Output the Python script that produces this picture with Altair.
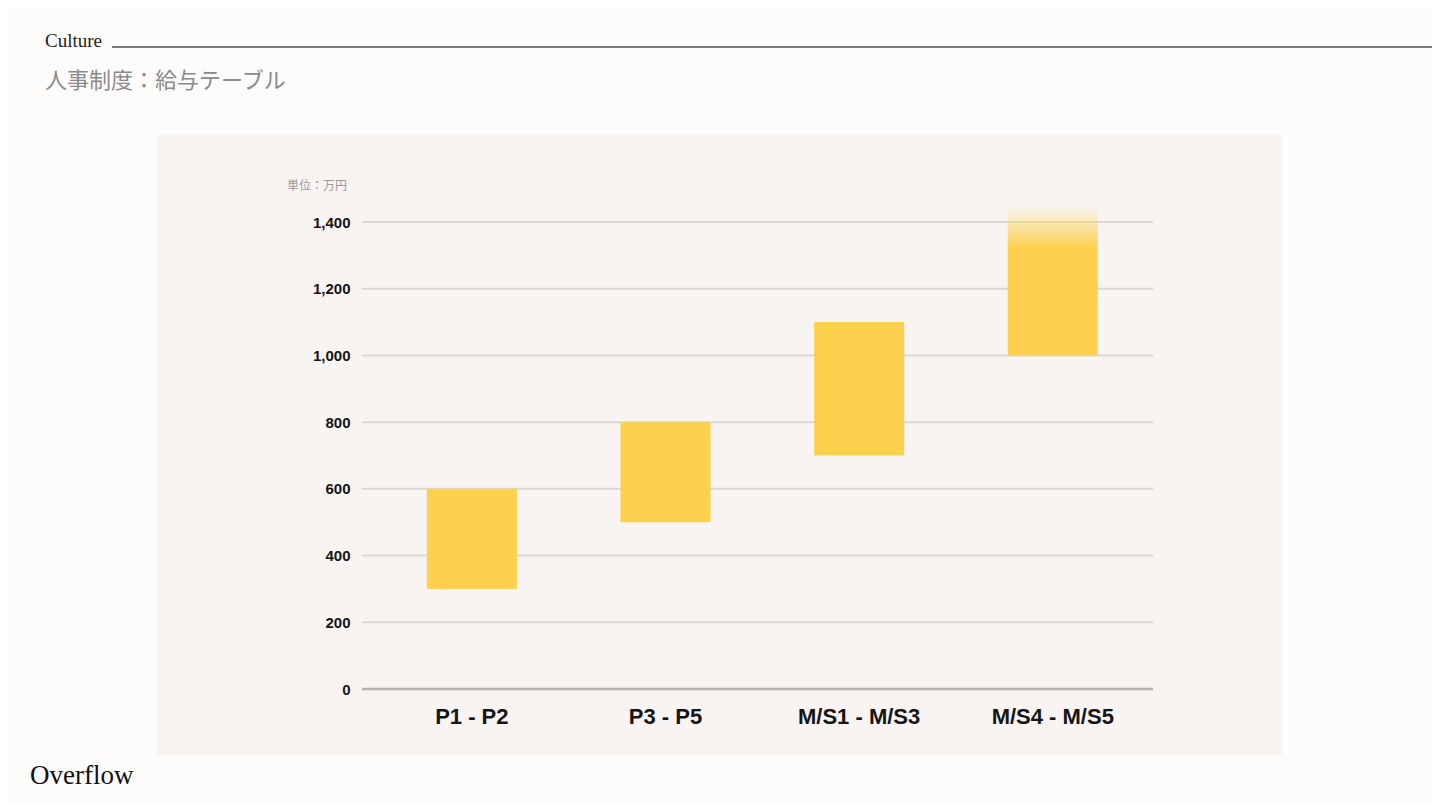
import altair as alt
import pandas as pd

# ---- data ----
categories = ["P1 - P2", "P3 - P5", "M/S1 - M/S3", "M/S4 - M/S5"]
lows = [300, 500, 700, 1000]
highs = [600, 800, 1100, 1445]
faded = [False, False, False, True]
y_ticks = [0, 200, 400, 600, 800, 1000, 1200, 1400]

bars_df = pd.DataFrame({"cat": categories, "low": lows, "high": highs, "faded": faded})
grid_df = pd.DataFrame({"low": y_ticks[1:]})
zero_df = pd.DataFrame({"low": [0]})
one = pd.DataFrame({"a": [0]})

BAR = "#FDD14D"
W, H = 791, 467

yscale = alt.Scale(domain=[0, 1400], nice=False, zero=True)
xscale = alt.Scale(domain=categories, paddingInner=0.535, paddingOuter=0.31, align=0.54)
y_axis = alt.Axis(values=y_ticks, format=",d", zindex=1)
x_axis = alt.Axis(labelAngle=0, zindex=1)

panel = alt.Chart(one).mark_rect(color="#F7F4F2").encode(
    x=alt.value(-205), x2=alt.value(920), y=alt.value(-87), y2=alt.value(533)
)

grid = alt.Chart(grid_df).mark_rule(color="#DAD7D4", strokeWidth=2).encode(
    y=alt.Y("low:Q", scale=yscale, axis=y_axis, title=None), x=alt.value(0), x2=alt.value(W)
)
zero = alt.Chart(zero_df).mark_rule(color="#B4B2AF", strokeWidth=2.5).encode(
    y=alt.Y("low:Q", scale=yscale, axis=y_axis, title=None), x=alt.value(0), x2=alt.value(W)
)

x_enc = alt.X("cat:N", scale=xscale, sort=categories, title=None, axis=x_axis)
y_enc = alt.Y("low:Q", scale=yscale, title=None, axis=y_axis)

solid_bars = alt.Chart(bars_df).transform_filter("!datum.faded").mark_bar(
    color=BAR, cornerRadius=0
).encode(x=x_enc, y=y_enc, y2="high:Q")

fade_bars = alt.Chart(bars_df).transform_filter("datum.faded").mark_bar(
    color=alt.Gradient(
        gradient="linear", x1=0, x2=0, y1=1, y2=0,
        stops=[
            alt.GradientStop(offset=0, color=BAR),
            alt.GradientStop(offset=0.72, color=BAR),
            alt.GradientStop(offset=1, color="rgba(253,209,77,0)"),
        ],
    )
).encode(x=x_enc, y=y_enc, y2="high:Q")

def label(txt, x, y, size, color, font, weight="normal", baseline="alphabetic"):
    return alt.Chart(one).mark_text(
        text=txt, fontSize=size, color=color, font=font, fontWeight=weight,
        align="left", baseline=baseline
    ).encode(x=alt.value(x), y=alt.value(y))

culture = label("Culture", -317, -175, 19, "#222222", "Liberation Serif")
header_rule = alt.Chart(one).mark_rule(color="#7A7A7A", strokeWidth=2).encode(
    x=alt.value(-250), x2=alt.value(1080), y=alt.value(-175)
)
subtitle = label("人事制度：給与テーブル", -317, -141, 22, "#8A8A8A", "Noto Sans CJK JP", baseline="middle")
unit = label("単位：万円", -75, -36, 12, "#9A9A9A", "Noto Sans CJK JP", baseline="middle")
brand = label("Overflow", -332, 554, 27, "#111111", "Liberation Serif", baseline="middle")

chart = alt.layer(
    panel, grid, zero, solid_bars, fade_bars, culture, header_rule, subtitle, unit, brand
).properties(
    width=W, height=H,
    autosize=alt.AutoSizeParams(type="none"),
    padding={"left": 354, "top": 214, "right": 279, "bottom": 113},
    background="#FDFCFB",
).configure_view(stroke=None).configure_axis(
    domain=False, ticks=False, grid=False, labelFont="Liberation Sans",
    labelFontWeight="bold", labelColor="#151515"
).configure_axisX(
    labelFontSize=22, labelPadding=17, labelBaseline="top"
).configure_axisY(
    labelFontSize=15, labelPadding=12
)

chart.save("out.html", embed_options={"renderer": "svg", "actions": False})
